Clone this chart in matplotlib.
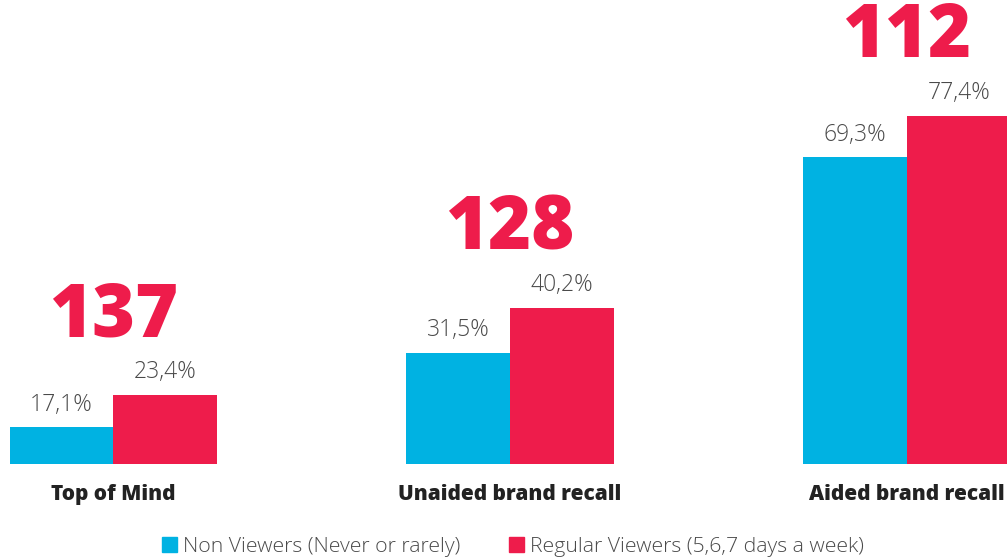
import matplotlib.pyplot as plt
from matplotlib.patches import Patch
import numpy as np

categories = ["Top of Mind", "Unaided brand recall", "Aided brand recall"]
non_viewers = [17.1, 31.5, 69.3]
regular_viewers = [23.4, 40.2, 77.4]
index = [137, 128, 112]
series_names = ["Non Viewers (Never or rarely)", "Regular Viewers (5,6,7 days a week)"]

blue = "#00B2E2"
red = "#EE1C4B"
grey = "#4a4a4a"

plt.rcParams["font.family"] = ["Open Sans", "DejaVu Sans"]

fig = plt.figure(figsize=(10.07, 5.6), dpi=100)
ax = fig.add_axes([0, 96 / 560, 1, 464 / 560])

x = np.arange(len(categories))
w = 0.261
ax.bar(x - w / 2, non_viewers, w, color=blue)
ax.bar(x + w / 2, regular_viewers, w, color=red)

# baseline sits at 10%, not zero
ax.set_ylim(10, 99.75)
ax.set_xlim(-0.285, 2.252)
ax.axis("off")

def pct(v):
    return f"{v:.1f}%".replace(".", ",")

for i in range(len(categories)):
    ax.annotate(pct(non_viewers[i]), (x[i] - w / 2, non_viewers[i]), xytext=(0, 12),
                textcoords="offset points", ha="center", va="baseline",
                fontsize=16.5, color=grey, fontweight="light")
    ax.annotate(pct(regular_viewers[i]), (x[i] + w / 2, regular_viewers[i]), xytext=(0, 12),
                textcoords="offset points", ha="center", va="baseline",
                fontsize=16.5, color=grey, fontweight="light")
    ax.annotate(str(index[i]), (x[i], regular_viewers[i]), xytext=(0, 42),
                textcoords="offset points", ha="center", va="baseline",
                fontsize=53, color=red, fontweight="heavy")
    ax.annotate(categories[i], (x[i], 10), xytext=(0, -22),
                textcoords="offset points", ha="center", va="center",
                fontsize=15, color="#222222", fontweight="heavy")

handles = [Patch(color=blue), Patch(color=red)]
fig.legend(handles, series_names, loc="center", bbox_to_anchor=(513 / 1007, 1 - 547 / 560),
           ncol=2, frameon=False, handlelength=0.7, handleheight=0.7,
           handletextpad=0.3, columnspacing=2.3, labelcolor=grey,
           prop={"weight": "light", "size": 15.3})

fig.savefig("out.png", dpi=100)
